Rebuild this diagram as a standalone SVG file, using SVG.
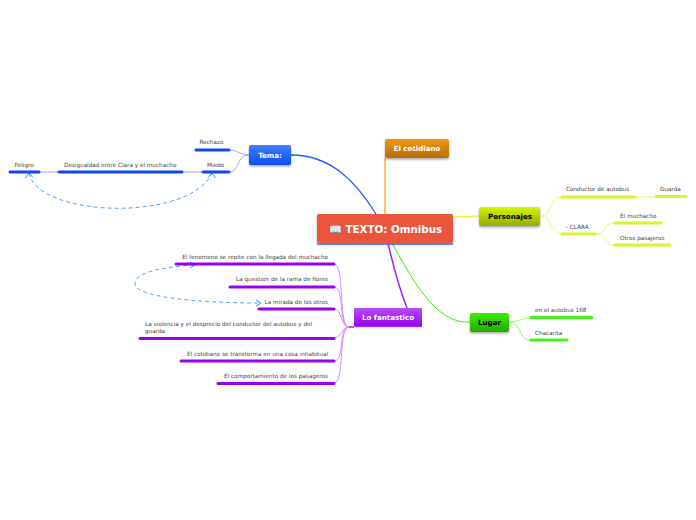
<svg xmlns="http://www.w3.org/2000/svg" width="696" height="520" viewBox="0 0 696 520">
<style>
text{font-family:"DejaVu Sans","Liberation Sans",sans-serif}
.l{font-size:5.7px;fill:#444}
.e{text-anchor:end}
.t{font-size:7.1px;font-weight:bold;fill:#fff;text-anchor:middle}
.k{fill:#000}
.c{fill:none}
.u{fill:none;stroke-width:3;stroke-linecap:round}
.rel{fill:none;stroke:#55a5f5;stroke-width:1;stroke-dasharray:4 3}
.ah{fill:none;stroke:#3f93f0;stroke-width:1}
</style>
<defs>
<linearGradient id="gb" x1="0" y1="0" x2="0" y2="1"><stop offset="0" stop-color="#3f80ff"/><stop offset="1" stop-color="#0c4cf0"/></linearGradient>
<linearGradient id="go" x1="0" y1="0" x2="0" y2="1"><stop offset="0" stop-color="#f09a10"/><stop offset="1" stop-color="#b86c00"/></linearGradient>
<linearGradient id="gy" x1="0" y1="0" x2="0" y2="1"><stop offset="0" stop-color="#d4f500"/><stop offset="1" stop-color="#8fae00"/></linearGradient>
<linearGradient id="gg" x1="0" y1="0" x2="0" y2="1"><stop offset="0" stop-color="#3cf000"/><stop offset="1" stop-color="#24a800"/></linearGradient>
<linearGradient id="gp" x1="0" y1="0" x2="0" y2="1"><stop offset="0" stop-color="#b84cf8"/><stop offset="1" stop-color="#9500f0"/></linearGradient>
<filter id="s" x="-10%" y="-20%" width="120%" height="150%"><feDropShadow dx="0" dy="1.5" stdDeviation="1" flood-color="#000" flood-opacity=".35"/></filter>
</defs>

<g id="connectors">
<path class="c" d="M291 155C330 155 355 180 376 214" stroke="#1f5cff" stroke-width="1.3"/>
<path class="c" d="M385 158V214" stroke="#ffb13d" stroke-width="1.5"/>
<path class="c" d="M453 217C462 217 470 216 480 216" stroke="#d9f500" stroke-width="1"/>
<path class="c" d="M392 243C410 275 435 325 470 322" stroke="#33f000" stroke-width="1"/>
<path class="c" d="M388 243C393 265 400 290 407 308" stroke="#a020f8" stroke-width="1.5"/>
<g stroke="#8fb0ff" stroke-width="1" fill="none">
<path d="M229 150C238 150 240 155 249 155"/>
<path d="M229 172C240 172 236 155 249 155"/>
<path d="M183 172H202"/>
<path d="M39 172H58"/>
</g>
<g stroke="#cf8dfb" stroke-width="1" fill="none">
<path d="M334 264C345 264 338 327 349 327"/>
<path d="M334 287C345 287 338 327 349 327"/>
<path d="M334 309C342 309 341 327 349 327"/>
<path d="M334 338C342 338 341 327 349 327"/>
<path d="M334 361C345 361 338 327 349 327"/>
<path d="M334 383C345 383 338 327 349 327"/>
<path d="M349 327H354" stroke="#9900f5" stroke-width="1.5"/>
</g>
<g stroke="#e6fb70" stroke-width="1" fill="none">
<path d="M541 216C552 216 550 197 561 197"/>
<path d="M541 216C552 216 550 234 561 234"/>
<path d="M636 197H655"/>
<path d="M596 234C608 234 602 223 614 223"/>
<path d="M596 234C608 234 602 245 614 245"/>
</g>
<g stroke="#90f870" stroke-width="1" fill="none">
<path d="M509 322C520 322 520 318 530 318"/>
<path d="M509 322C522 322 518 340 530 340"/>
</g>
<path class="rel" d="M29 173C38 218 190 222 212 173"/>
<path class="ah" d="M25.500 178L29 173L33 177.500M208 177.500L212 173L215.500 178"/>
<path class="rel" d="M194 265C150 268 135 275 135 284C135 296 190 303 260 303"/>
<path class="ah" d="M190 262L195 265L190 268M256 300L261 303L256 306"/>
</g>

<g id="root">
<rect x="317" y="214" width="136" height="29" rx="2" fill="#eb553b" filter="url(#s)"/>
<path d="M317 244H453" stroke="#3f6cf0" stroke-width="1.500"/>
<text x="385.500" y="233" font-size="10.3" font-weight="bold" fill="#fff" text-anchor="middle">📖 TEXTO: Omnibus</text>
</g>
<g id="tema"><rect x="249" y="145" width="42" height="20" rx="2" fill="url(#gb)" filter="url(#s)"/><text class="t" x="270" y="157.500">Tema:</text></g>
<g id="cotidiano"><rect x="385" y="139" width="64" height="19" rx="2" fill="url(#go)" filter="url(#s)"/><text class="t" x="417" y="151">El cotidiano</text></g>
<g id="personajes"><rect x="479" y="207" width="61" height="19" rx="2" fill="url(#gy)" filter="url(#s)"/><text class="t k" x="510" y="219">Personajes</text></g>
<g id="lugar"><rect x="470" y="313" width="39" height="19" rx="2" fill="url(#gg)" filter="url(#s)"/><text class="t k" x="489.500" y="325">Lugar</text></g>
<g id="fantastico"><rect x="354" y="308" width="68" height="19" rx="1" fill="url(#gp)"/><path d="M349 327H423" stroke="#c99bf5" stroke-width=".6"/><text class="t" x="388" y="320">Lo fantastico</text></g>

<g id="rechazo"><text class="l" x="199.500" y="144">Rechazo</text><path class="u" d="M196 150H229" stroke="#0f46f0"/></g>
<g id="miedo"><text class="l" x="207" y="167">Miedo</text><path class="u" d="M203 172H229" stroke="#0f46f0"/></g>
<g id="desigualdad"><text class="l" x="64" y="167">Desigualdad entre Clara y el muchacho</text><path class="u" d="M59 172H182" stroke="#0f46f0"/></g>
<g id="peligro"><text class="l" x="14.500" y="167">Peligro</text><path class="u" d="M10 172H39" stroke="#0f46f0"/></g>

<g id="f1"><text class="l e" x="328" y="259">El fenomeno se repite con la llegada del muchacho</text><path class="u" d="M176 264H334" stroke="#9900f5"/></g>
<g id="f2"><text class="l e" x="328" y="281">La question de la rama de flores</text><path class="u" d="M230 287H334" stroke="#9900f5"/></g>
<g id="f3"><text class="l e" x="328" y="304">La mirada de los otros</text><path class="u" d="M259 309H334" stroke="#9900f5"/></g>
<g id="f4"><text class="l" x="145" y="326">La violencia y el desprecio del conductor del autobus y del</text><text class="l" x="145" y="333">guarda</text><path class="u" d="M140 338.500H334" stroke="#9900f5"/></g>
<g id="f5"><text class="l e" x="328" y="356">El cotidiano se transforma en una cosa inhabitual</text><path class="u" d="M181 361H334" stroke="#9900f5"/></g>
<g id="f6"><text class="l e" x="328" y="378">El comportamiento de los pasageros</text><path class="u" d="M218 383.500H334" stroke="#9900f5"/></g>

<g id="conductor"><text class="l" x="566" y="191">Conductor de autobus</text><path class="u" d="M562 197H635" stroke="#d9f52a"/></g>
<g id="guarda"><text class="l" x="660" y="191">Guarda</text><path class="u" d="M656 196.500H686" stroke="#d9f52a"/></g>
<g id="clara"><text class="l" x="566" y="229">- CLARA</text><path class="u" d="M562 234H595" stroke="#d9f52a"/></g>
<g id="muchacho"><text class="l" x="620" y="218">El muchacho</text><path class="u" d="M615 223H661" stroke="#d9f52a"/></g>
<g id="otros"><text class="l" x="620" y="240">Otros pasajeros</text><path class="u" d="M615 245H670" stroke="#d9f52a"/></g>

<g id="autobus"><text class="l" x="535" y="312">en el autobus 168</text><path class="u" d="M531 317.500H592" stroke="#49f01c"/></g>
<g id="chacarita"><text class="l" x="535" y="335">Chacarita</text><path class="u" d="M531 340H567" stroke="#49f01c"/></g>
</svg>
